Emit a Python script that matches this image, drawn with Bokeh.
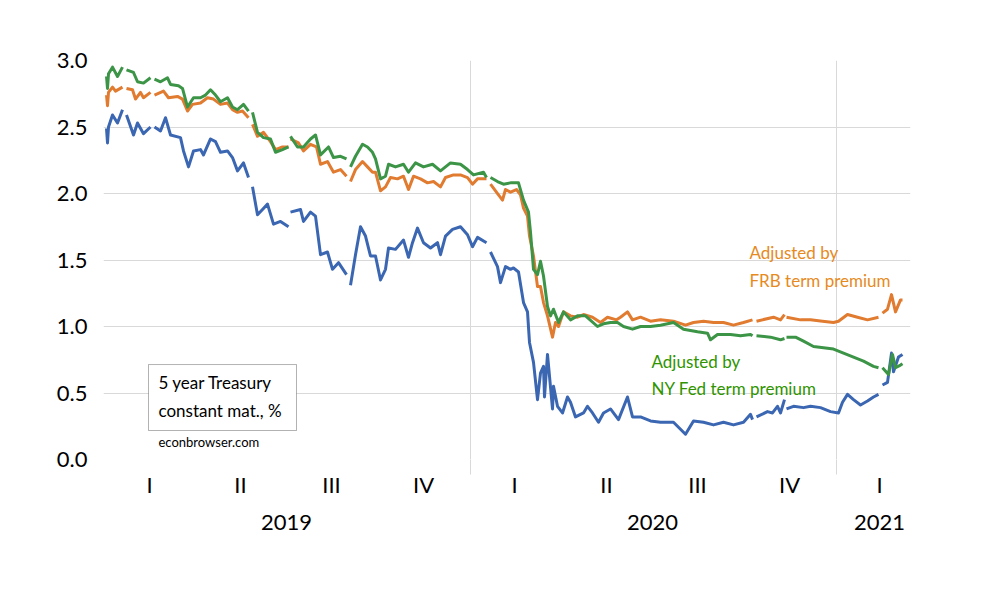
import pandas as pd
from bokeh.plotting import figure
from bokeh.models import (ColumnDataSource, FixedTicker, LinearAxis, Label,
                          BoxAnnotation, Range1d, NumeralTickFormatter)
from bokeh.embed import file_html
from bokeh.resources import INLINE

nan = float("nan")

# ---- data ----
treasury_dates = [
    "2019-01-02", "2019-01-03", "2019-01-04", "2019-01-08", "2019-01-13", "2019-01-18", "2019-01-21",
    "2019-01-22", "2019-01-29", "2019-02-02", "2019-02-08", "2019-02-15", "2019-02-18", "2019-02-19",
    "2019-02-25", "2019-03-02", "2019-03-07", "2019-03-17", "2019-03-20", "2019-03-25", "2019-03-30",
    "2019-04-06", "2019-04-09", "2019-04-16", "2019-04-21", "2019-04-26", "2019-05-03", "2019-05-08",
    "2019-05-13", "2019-05-19", "2019-05-24", "2019-05-27", "2019-05-28", "2019-06-02", "2019-06-07",
    "2019-06-12", "2019-06-18", "2019-06-25", "2019-07-03", "2019-07-04", "2019-07-05", "2019-07-15",
    "2019-07-18", "2019-07-25", "2019-07-30", "2019-08-04", "2019-08-11", "2019-08-16", "2019-08-22",
    "2019-08-30", "2019-09-02", "2019-09-03", "2019-09-08", "2019-09-13", "2019-09-18", "2019-09-23",
    "2019-09-28", "2019-10-03", "2019-10-08", "2019-10-11", "2019-10-18", "2019-10-26", "2019-10-31",
    "2019-11-04", "2019-11-09", "2019-11-15", "2019-11-22", "2019-11-29", "2019-12-02", "2019-12-07",
    "2019-12-14", "2019-12-22", "2019-12-29", "2020-01-03", "2020-01-08", "2020-01-17", "2020-01-20",
    "2020-01-21", "2020-01-28", "2020-01-31", "2020-02-05", "2020-02-10", "2020-02-13", "2020-02-18",
    "2020-02-23", "2020-02-27", "2020-02-29", "2020-03-04", "2020-03-08", "2020-03-11", "2020-03-14",
    "2020-03-15", "2020-03-18", "2020-03-23", "2020-03-24", "2020-03-28", "2020-04-02", "2020-04-07",
    "2020-04-10", "2020-04-15", "2020-04-23", "2020-04-27", "2020-05-02", "2020-05-08", "2020-05-13",
    "2020-05-20", "2020-05-28", "2020-06-06", "2020-06-11", "2020-06-19", "2020-06-29", "2020-07-09",
    "2020-07-22", "2020-08-03", "2020-08-11", "2020-08-21", "2020-08-31", "2020-09-10", "2020-09-20",
    "2020-09-30", "2020-10-07", "2020-10-09", "2020-10-12", "2020-10-13", "2020-10-24", "2020-10-29",
    "2020-11-03", "2020-11-06", "2020-11-10", "2020-11-11", "2020-11-12", "2020-11-19", "2020-11-29",
    "2020-12-06", "2020-12-16", "2020-12-26", "2021-01-03", "2021-01-07", "2021-01-12", "2021-01-18",
    "2021-01-25", "2021-02-01", "2021-02-07", "2021-02-12", "2021-02-15", "2021-02-16", "2021-02-21",
    "2021-02-25", "2021-02-27", "2021-03-04", "2021-03-08",
]
treasury_5y = [
    2.49, 2.38, 2.50, 2.59, 2.53, 2.63, nan,
    2.59, 2.44, 2.53, 2.45, 2.50, nan, 2.50,
    2.47, 2.57, 2.44, 2.42, 2.32, 2.20, 2.32,
    2.33, 2.29, 2.41, 2.39, 2.31, 2.32, 2.27,
    2.17, 2.23, 2.12, nan, 2.05, 1.84, 1.88,
    1.92, 1.77, 1.79, 1.75, nan, 1.86, 1.88,
    1.79, 1.86, 1.83, 1.54, 1.56, 1.43, 1.48,
    1.39, nan, 1.31, 1.54, 1.75, 1.68, 1.53,
    1.53, 1.35, 1.43, 1.59, 1.58, 1.65, 1.52,
    1.63, 1.74, 1.63, 1.59, 1.63, 1.54, 1.68,
    1.73, 1.75, 1.69, 1.60, 1.67, 1.63, nan,
    1.56, 1.45, 1.33, 1.45, 1.43, 1.44, 1.41,
    1.18, 1.11, 0.88, 0.73, 0.45, 0.65, 0.70,
    0.47, 0.79, 0.38, 0.55, 0.40, 0.35, 0.47,
    0.43, 0.32, 0.35, 0.40, 0.35, 0.28, 0.35,
    0.38, 0.30, 0.47, 0.32, 0.32, 0.29, 0.28,
    0.28, 0.19, 0.29, 0.28, 0.26, 0.28, 0.26,
    0.28, 0.34, 0.30, nan, 0.32, 0.36, 0.35,
    0.40, 0.35, 0.45, nan, 0.38, 0.40, 0.39,
    0.40, 0.39, 0.36, 0.35, 0.43, 0.49, 0.45,
    0.41, 0.44, 0.47, 0.49, nan, 0.56, 0.58,
    0.80, 0.66, 0.77, 0.79,
]

frb_dates = [
    "2019-01-02", "2019-01-03", "2019-01-04", "2019-01-08", "2019-01-11", "2019-01-18", "2019-01-21",
    "2019-01-22", "2019-01-28", "2019-01-31", "2019-02-05", "2019-02-08", "2019-02-15", "2019-02-18",
    "2019-02-19", "2019-02-28", "2019-03-05", "2019-03-14", "2019-03-19", "2019-03-24", "2019-03-29",
    "2019-04-06", "2019-04-13", "2019-04-19", "2019-04-26", "2019-05-03", "2019-05-08", "2019-05-13",
    "2019-05-18", "2019-05-24", "2019-05-27", "2019-05-28", "2019-06-02", "2019-06-08", "2019-06-15",
    "2019-06-20", "2019-06-27", "2019-07-03", "2019-07-04", "2019-07-05", "2019-07-13", "2019-07-18",
    "2019-07-25", "2019-07-31", "2019-08-04", "2019-08-11", "2019-08-17", "2019-08-24", "2019-08-30",
    "2019-09-02", "2019-09-03", "2019-09-08", "2019-09-15", "2019-09-20", "2019-09-25", "2019-09-28",
    "2019-10-03", "2019-10-08", "2019-10-13", "2019-10-20", "2019-10-26", "2019-10-31", "2019-11-05",
    "2019-11-12", "2019-11-19", "2019-11-25", "2019-12-02", "2019-12-07", "2019-12-15", "2019-12-22",
    "2019-12-29", "2020-01-03", "2020-01-08", "2020-01-17", "2020-01-20", "2020-01-21", "2020-01-29",
    "2020-02-02", "2020-02-05", "2020-02-10", "2020-02-16", "2020-02-20", "2020-02-23", "2020-02-27",
    "2020-02-29", "2020-03-04", "2020-03-08", "2020-03-11", "2020-03-14", "2020-03-18", "2020-03-23",
    "2020-03-26", "2020-03-29", "2020-04-03", "2020-04-10", "2020-04-17", "2020-04-23", "2020-05-02",
    "2020-05-10", "2020-05-17", "2020-05-26", "2020-05-30", "2020-06-06", "2020-06-11", "2020-06-19",
    "2020-06-29", "2020-07-09", "2020-07-22", "2020-08-03", "2020-08-11", "2020-08-21", "2020-08-31",
    "2020-09-10", "2020-09-20", "2020-09-30", "2020-10-09", "2020-10-12", "2020-10-13", "2020-10-30",
    "2020-11-06", "2020-11-10", "2020-11-11", "2020-11-12", "2020-11-26", "2020-12-06", "2020-12-18",
    "2020-12-29", "2021-01-03", "2021-01-12", "2021-01-22", "2021-02-01", "2021-02-12", "2021-02-15",
    "2021-02-16", "2021-02-21", "2021-02-25", "2021-03-01", "2021-03-06", "2021-03-08",
]
adj_frb = [
    2.74, 2.66, 2.76, 2.80, 2.77, 2.80, nan,
    2.79, 2.78, 2.71, 2.76, 2.72, 2.76, nan,
    2.74, 2.77, 2.72, 2.73, 2.71, 2.62, 2.67,
    2.68, 2.72, 2.71, 2.67, 2.68, 2.63, 2.61,
    2.62, 2.57, nan, 2.52, 2.43, 2.46, 2.39,
    2.33, 2.35, 2.35, nan, 2.41, 2.38, 2.32,
    2.37, 2.35, 2.22, 2.24, 2.16, 2.18, 2.13,
    nan, 2.09, 2.18, 2.24, 2.20, 2.16, 2.16,
    2.02, 2.05, 2.12, 2.11, 2.13, 2.03, 2.13,
    2.11, 2.08, 2.09, 2.05, 2.12, 2.14, 2.14,
    2.12, 2.07, 2.11, 2.11, nan, 2.07, 1.99,
    1.95, 2.03, 2.01, 2.03, 1.99, 1.89, 1.83,
    1.68, 1.53, 1.30, 1.30, 1.18, 1.08, 0.92,
    1.03, 1.00, 1.11, 1.08, 1.07, 1.09, 1.07,
    1.03, 1.07, 1.05, 1.07, 1.11, 1.05, 1.07,
    1.04, 1.05, 1.04, 1.01, 1.03, 1.04, 1.03,
    1.03, 1.01, 1.03, 1.05, nan, 1.04, 1.07,
    1.05, 1.09, nan, 1.07, 1.05, 1.05, 1.04,
    1.03, 1.04, 1.09, 1.07, 1.05, 1.07, nan,
    1.10, 1.13, 1.24, 1.11, 1.20, 1.20,
]

nyfed_dates = [
    "2019-01-02", "2019-01-03", "2019-01-04", "2019-01-08", "2019-01-13", "2019-01-18", "2019-01-21",
    "2019-01-22", "2019-01-29", "2019-02-02", "2019-02-08", "2019-02-15", "2019-02-18", "2019-02-19",
    "2019-02-25", "2019-03-04", "2019-03-07", "2019-03-15", "2019-03-19", "2019-03-24", "2019-03-30",
    "2019-04-06", "2019-04-11", "2019-04-16", "2019-04-21", "2019-04-26", "2019-05-03", "2019-05-08",
    "2019-05-13", "2019-05-19", "2019-05-24", "2019-05-27", "2019-05-28", "2019-06-02", "2019-06-08",
    "2019-06-15", "2019-06-20", "2019-06-27", "2019-07-03", "2019-07-04", "2019-07-05", "2019-07-12",
    "2019-07-18", "2019-07-25", "2019-07-30", "2019-08-04", "2019-08-12", "2019-08-17", "2019-08-24",
    "2019-08-30", "2019-09-02", "2019-09-03", "2019-09-08", "2019-09-15", "2019-09-20", "2019-09-25",
    "2019-09-28", "2019-10-03", "2019-10-08", "2019-10-11", "2019-10-18", "2019-10-26", "2019-10-31",
    "2019-11-07", "2019-11-15", "2019-11-24", "2019-12-02", "2019-12-12", "2019-12-22", "2019-12-29",
    "2020-01-04", "2020-01-14", "2020-01-17", "2020-01-20", "2020-01-21", "2020-01-28", "2020-02-03",
    "2020-02-10", "2020-02-18", "2020-02-23", "2020-02-28", "2020-03-01", "2020-03-04", "2020-03-08",
    "2020-03-11", "2020-03-14", "2020-03-18", "2020-03-21", "2020-03-24", "2020-03-29", "2020-04-03",
    "2020-04-10", "2020-04-17", "2020-04-25", "2020-05-07", "2020-05-13", "2020-05-20", "2020-05-27",
    "2020-06-02", "2020-06-11", "2020-06-19", "2020-06-29", "2020-07-09", "2020-07-22", "2020-08-01",
    "2020-08-15", "2020-08-25", "2020-08-28", "2020-09-04", "2020-09-17", "2020-09-27", "2020-10-07",
    "2020-10-09", "2020-10-12", "2020-10-13", "2020-10-27", "2020-11-06", "2020-11-10", "2020-11-11",
    "2020-11-12", "2020-11-21", "2020-11-29", "2020-12-09", "2020-12-19", "2020-12-29", "2021-01-08",
    "2021-01-18", "2021-01-28", "2021-02-07", "2021-02-12", "2021-02-15", "2021-02-16", "2021-02-22",
    "2021-02-26", "2021-03-01", "2021-03-06", "2021-03-08",
]
adj_nyfed = [
    2.88, 2.79, 2.90, 2.95, 2.88, 2.95, nan,
    2.93, 2.91, 2.84, 2.83, 2.87, nan, 2.86,
    2.84, 2.87, 2.82, 2.81, 2.79, 2.65, 2.72,
    2.72, 2.74, 2.78, 2.74, 2.69, 2.72, 2.65,
    2.63, 2.67, 2.62, nan, 2.61, 2.46, 2.42,
    2.41, 2.31, 2.33, 2.35, nan, 2.43, 2.35,
    2.35, 2.41, 2.44, 2.29, 2.35, 2.27, 2.28,
    2.26, nan, 2.20, 2.28, 2.37, 2.35, 2.31,
    2.26, 2.11, 2.13, 2.22, 2.20, 2.22, 2.16,
    2.23, 2.20, 2.22, 2.17, 2.23, 2.22, 2.18,
    2.14, 2.16, 2.12, nan, 2.12, 2.09, 2.07,
    2.08, 2.08, 1.95, 1.86, 1.71, 1.43, 1.39,
    1.49, 1.38, 1.15, 1.08, 1.13, 1.03, 1.11,
    1.05, 1.08, 1.08, 1.00, 1.02, 1.03, 1.03,
    1.00, 0.98, 1.00, 1.00, 1.01, 1.03, 0.98,
    0.96, 0.95, 0.90, 0.94, 0.94, 0.93, 0.94,
    0.93, nan, 0.93, 0.92, 0.90, 0.91, nan,
    0.92, 0.92, 0.89, 0.85, 0.84, 0.83, 0.80,
    0.77, 0.74, 0.70, 0.69, nan, 0.69, 0.64,
    0.79, 0.69, 0.71, 0.72,
]

y_ticks = [0.0, 0.5, 1.0, 1.5, 2.0, 2.5, 3.0]
quarter_dates = ["2019-02-14", "2019-05-16", "2019-08-15", "2019-11-15",
                 "2020-02-14", "2020-05-16", "2020-08-15", "2020-11-15", "2021-02-13"]
quarter_labels = ["I", "II", "III", "IV", "I", "II", "III", "IV", "I"]
year_dates = ["2019-07-01", "2020-07-01", "2021-02-13"]
year_labels = ["2019", "2020", "2021"]
year_breaks = ["2020-01-01", "2021-01-01"]


def ms(d):
    return float(pd.Timestamp(d).value // 10**6)


FONT = "Lato"
BLUE = "#3a66b2"
ORANGE = "#e07b30"
GREEN = "#3c9447"

p = figure(width=1000, height=574, output_backend="svg", toolbar_location=None,
           x_axis_location=None,
           x_range=Range1d(ms("2018-12-30"), ms("2021-03-16")),
           y_range=Range1d(0, 3.0),
           min_border_left=103, min_border_right=90, min_border_top=60, min_border_bottom=115)
p.frame_width = 807
p.frame_height = 399
p.outline_line_color = None
p.background_fill_color = "white"
p.border_fill_color = "white"

# y axis
p.yaxis.ticker = FixedTicker(ticks=y_ticks)
p.yaxis.formatter = NumeralTickFormatter(format="0.0")
p.yaxis.axis_line_color = None
p.yaxis.major_tick_line_color = None
p.yaxis.minor_tick_line_color = None
p.yaxis.major_label_text_font = FONT
p.yaxis.major_label_text_font_size = "22px"
p.yaxis.major_label_text_color = "black"
p.yaxis.major_label_standoff = 10

p.ygrid.ticker = FixedTicker(ticks=[t for t in y_ticks if 0 < t < 3.0])
p.ygrid.grid_line_color = "#d9d9d9"
p.xgrid.ticker = FixedTicker(ticks=[ms(d) for d in year_breaks])
p.xgrid.grid_line_color = "#d9d9d9"

# quarter axis
q_ticks = [ms(d) for d in quarter_dates]
qaxis = LinearAxis(ticker=FixedTicker(ticks=q_ticks, minor_ticks=[ms(d) for d in year_breaks]),
                   major_label_overrides={t: l for t, l in zip(q_ticks, quarter_labels)})
qaxis.axis_line_color = None
qaxis.major_tick_line_color = None
qaxis.major_tick_in = 0
qaxis.major_tick_out = 0
qaxis.minor_tick_in = 0
qaxis.minor_tick_out = 15
qaxis.minor_tick_line_color = "#d9d9d9"
qaxis.major_label_standoff = -4
qaxis.major_label_text_font = FONT
qaxis.major_label_text_font_size = "22px"
qaxis.major_label_text_color = "black"
p.add_layout(qaxis, "below")

y_t = [ms(d) for d in year_dates]
yaxis2 = LinearAxis(ticker=FixedTicker(ticks=y_t),
                    major_label_overrides={t: l for t, l in zip(y_t, year_labels)})
yaxis2.axis_line_color = None
yaxis2.major_tick_line_color = None
yaxis2.minor_tick_line_color = None
yaxis2.major_tick_in = 0
yaxis2.major_tick_out = 0
yaxis2.major_label_standoff = 14
yaxis2.major_label_text_font = FONT
yaxis2.major_label_text_font_size = "22px"
yaxis2.major_label_text_color = "black"
p.add_layout(yaxis2, "below")

# series
for dates, vals, col in [(treasury_dates, treasury_5y, BLUE),
                         (frb_dates, adj_frb, ORANGE),
                         (nyfed_dates, adj_nyfed, GREEN)]:
    src = ColumnDataSource(dict(x=[ms(d) for d in dates], y=vals))
    p.line("x", "y", source=src, line_color=col, line_width=3, line_join="round")

# annotations
p.add_layout(Label(x=ms("2020-10-06"), y=1.556, text="Adjusted by", text_font=FONT,
                   text_font_size="17px", text_color="#e68a22", text_baseline="middle"))
p.add_layout(Label(x=ms("2020-10-06"), y=1.346, text="FRB term premium", text_font=FONT,
                   text_font_size="17px", text_color="#e68a22", text_baseline="middle"))
p.add_layout(Label(x=ms("2020-06-30"), y=0.737, text="Adjusted by", text_font=FONT,
                   text_font_size="17px", text_color="#2f9400", text_baseline="middle"))
p.add_layout(Label(x=ms("2020-06-30"), y=0.534, text="NY Fed term premium", text_font=FONT,
                   text_font_size="17px", text_color="#2f9400", text_baseline="middle"))

p.add_layout(BoxAnnotation(left=ms("2019-02-13"), right=ms("2019-07-11"), top=0.714, bottom=0.218,
                           fill_color="white", fill_alpha=1.0, line_color="black", line_width=1))
p.add_layout(Label(x=ms("2019-02-23"), y=0.579, text="5 year Treasury", text_font=FONT,
                   text_font_size="17px", text_color="black", text_baseline="middle"))
p.add_layout(Label(x=ms("2019-02-23"), y=0.368, text="constant mat., %", text_font=FONT,
                   text_font_size="17px", text_color="black", text_baseline="middle"))
p.add_layout(Label(x=ms("2019-02-23"), y=0.128, text="econbrowser.com", text_font=FONT,
                   text_font_size="13px", text_color="black", text_baseline="middle"))

open("out.html", "w").write(file_html(p, INLINE))
